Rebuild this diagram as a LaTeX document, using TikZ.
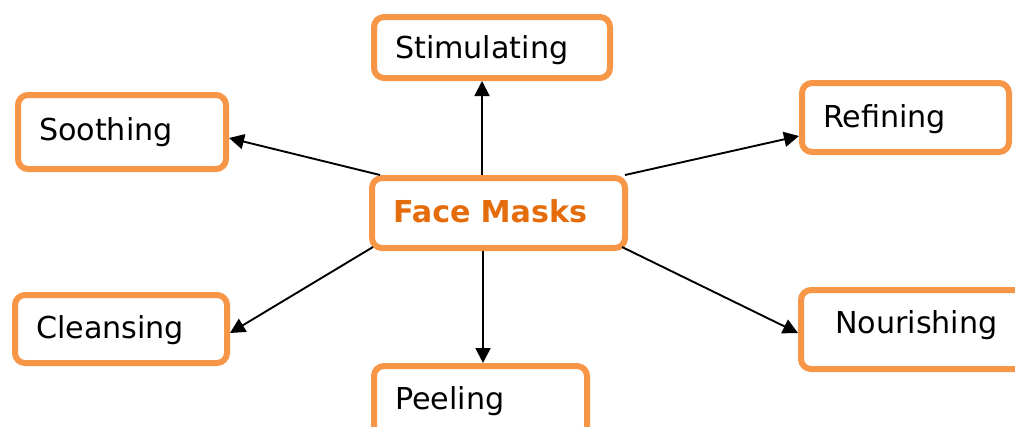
\documentclass[tikz,border=0pt]{standalone}
\usepackage{fontspec}
\setmainfont{DejaVu Sans}
\usetikzlibrary{arrows.meta}
\definecolor{boxorange}{HTML}{F79646}
\definecolor{titleorange}{HTML}{E46C0A}
\tikzset{
  catbox/.style={draw=boxorange, line width=6pt, rounded corners=10pt, fill=white,
    align=left, inner xsep=21pt, inner ysep=0pt, text height=22pt,
    font=\fontsize{30.2}{32}\selectfont},
  conn/.style={line width=1.9pt, -{Triangle[length=15pt,width=15pt]}}
}
\begin{document}
\begin{tikzpicture}[x=1pt,y=-1pt]
\useasboundingbox (0,0) rectangle (1015,426);
\node[catbox, text width=194pt, minimum height=61pt, text depth=0pt] (stim) at (492,47.5) {Stimulating};
\node[catbox, text width=166pt, minimum height=74pt, text depth=6pt] (sooth) at (122,132) {Soothing};
\node[catbox, text width=165pt, minimum height=69pt, text depth=3pt] (refin) at (905.5,117.5) {Refining};
\node[catbox, text width=211pt, minimum height=70pt, text depth=4pt, text=titleorange, font=\fontsize{30.2}{32}\selectfont\bfseries] (fm) at (498.5,213) {Face Masks};
\node[catbox, text width=170pt, minimum height=68pt, text depth=4pt] (clean) at (121,329) {Cleansing};
\node[catbox, text width=171pt, minimum height=70pt, text depth=6pt] (peel) at (480.5,401) {Peeling};
\node[catbox, inner xsep=34pt, text width=161pt, minimum height=79pt, text depth=15pt] (nour) at (915.5,329.5) {Nourishing};
\draw[conn] ([xshift=-16.5pt]fm.north) -- ([xshift=-16.5pt]fm.north |- stim.south);
\draw[conn] ([xshift=-15.5pt]fm.south) -- ([xshift=-15.5pt]fm.south |- peel.north);
\draw[conn] ([xshift=11pt]fm.north west) -- ([yshift=-6pt]sooth.east);
\draw[conn] ([xshift=-3pt]fm.north east) -- ([yshift=-18.5pt]refin.west);
\draw[conn] ([xshift=4pt,yshift=4pt]fm.south west) -- ([yshift=-4pt]clean.east);
\draw[conn] ([xshift=-6pt,yshift=4pt]fm.south east) -- ([yshift=-3.5pt]nour.west);
\end{tikzpicture}
\end{document}
